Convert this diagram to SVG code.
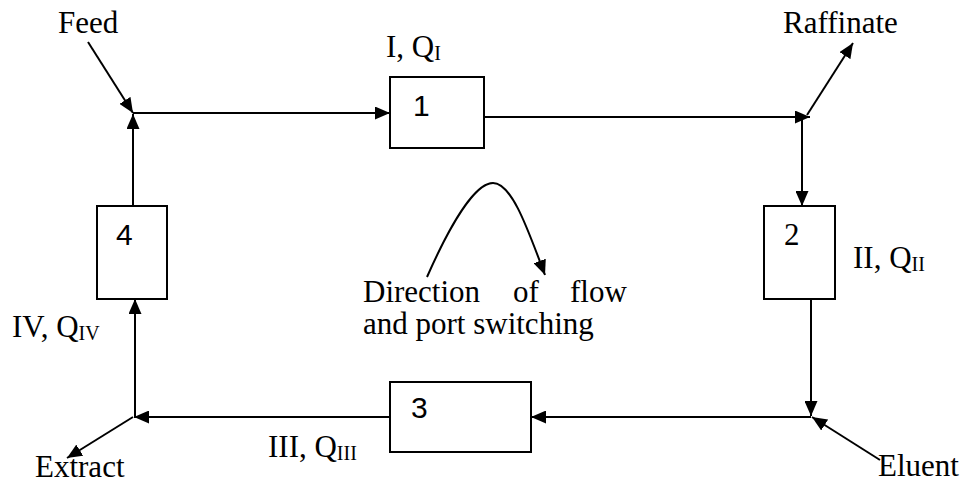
<svg xmlns="http://www.w3.org/2000/svg" width="963" height="485" viewBox="0 0 963 485">
<style>
  .box{fill:#fff;stroke:#000;stroke-width:2}
  .ln{fill:none;stroke:#000;stroke-width:2;marker-end:url(#ah)}
  .t{font-family:"Liberation Serif","Times New Roman",serif;font-size:31px;fill:#000}
  .n{font-family:"Liberation Sans",Arial,sans-serif;font-size:30px;fill:#000}
  .sub{font-size:20px}
</style>
<defs>
  <marker id="ah" markerUnits="userSpaceOnUse" markerWidth="15" markerHeight="13" refX="15" refY="6.5" orient="auto">
    <path d="M0,0 L15,6.5 L0,13 z" fill="#000"/>
  </marker>
</defs>
<rect width="963" height="485" fill="#fff"/>
<g id="connectors">
  <line class="ln" x1="88" y1="42" x2="133" y2="113"/>
  <line class="ln" x1="133" y1="113" x2="390" y2="113"/>
  <line class="ln" x1="133" y1="206" x2="133" y2="114"/>
  <line class="ln" x1="484" y1="117" x2="810" y2="117"/>
  <line class="ln" x1="807" y1="115" x2="853" y2="43"/>
  <line class="ln" x1="802" y1="118" x2="802" y2="206"/>
  <line class="ln" x1="811" y1="299" x2="811" y2="416"/>
  <line class="ln" x1="880" y1="460" x2="812" y2="417"/>
  <line class="ln" x1="811" y1="417" x2="531" y2="417"/>
  <line class="ln" x1="390" y1="417" x2="134" y2="417"/>
  <line class="ln" x1="135" y1="417" x2="135" y2="299"/>
  <line class="ln" x1="133" y1="417" x2="67" y2="458"/>
  <path class="ln" d="M427,277 C450,225 475,183 493,183 C512,183 528,230 545,275"/>
</g>
<g id="node1">
  <rect class="box" x="390" y="77" width="94" height="71"/>
  <text class="n" x="413" y="116">1</text>
</g>
<g id="node2">
  <rect class="box" x="764" y="206" width="71" height="93"/>
  <text class="t" x="784" y="245">2</text>
</g>
<g id="node3">
  <rect class="box" x="390" y="382" width="141" height="70"/>
  <text class="n" x="411" y="418">3</text>
</g>
<g id="node4">
  <rect class="box" x="97" y="206" width="70" height="93"/>
  <text class="n" x="116" y="245">4</text>
</g>
<g id="labels">
  <text class="t" x="58" y="33">Feed</text>
  <text class="t" x="783" y="33">Raffinate</text>
  <text class="t" x="35" y="477">Extract</text>
  <text class="t" x="878" y="476">Eluent</text>
  <text class="t" x="386" y="57">I, Q<tspan class="sub" dy="3">I</tspan></text>
  <text class="t" x="853" y="268">II, Q<tspan class="sub" dy="3">II</tspan></text>
  <text class="t" x="268" y="457">III, Q<tspan class="sub" dy="3">III</tspan></text>
  <text class="t" x="12" y="337">IV, Q<tspan class="sub" dy="3">IV</tspan></text>
  <text class="t" x="363" y="302">Direction</text>
  <text class="t" x="513" y="302">of</text>
  <text class="t" x="570" y="302">flow</text>
  <text class="t" x="363" y="334">and port switching</text>
</g>
</svg>
